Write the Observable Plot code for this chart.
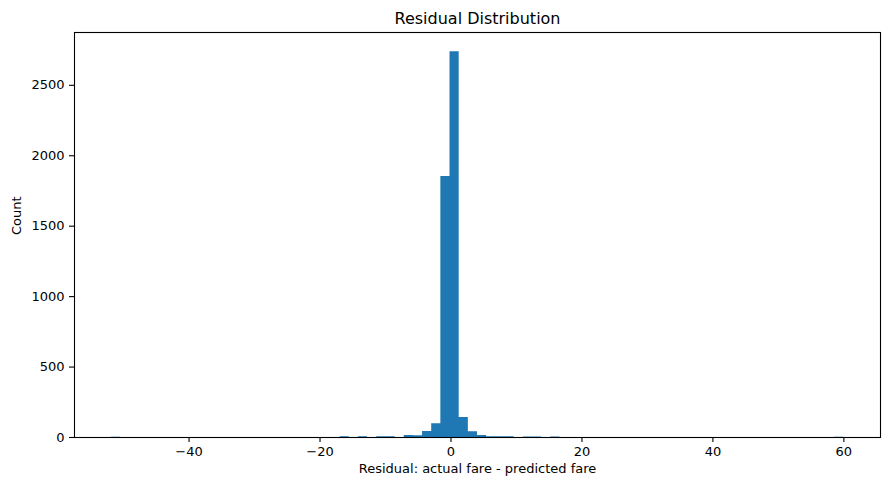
<!DOCTYPE html>
<html>
<head>
<meta charset="utf-8">
<script src="https://cdn.jsdelivr.net/npm/d3@7"></script>
<script src="https://cdn.jsdelivr.net/npm/@observablehq/plot@0.6"></script>
<style>
  body { margin: 0; background: #fff; }
  #chart svg { display: block; }
</style>
</head>
<body>
<div id="chart"></div>
<script>
const title = "Residual Distribution";
const xLabel = "Residual: actual fare - predicted fare";
const yLabel = "Count";

// Histogram: 80 equal bins spanning the residual range
const binLo = -51.9;
const binHi = 60.0;
const binCount = 80;
// bins that hold any residuals (bin index -> count); all others are empty
const binIndex = [0, 25, 27, 29, 30, 32, 33, 34, 35, 36, 37, 38, 39, 40, 41, 42, 43, 45, 46, 48, 79];
const binValue = [1, 6, 6, 6, 6, 14, 13, 42, 98, 1853, 2738, 142, 40, 14, 6, 5, 5, 4, 4, 4, 1];

const xTicks = [-40, -20, 0, 20, 40, 60];
const yTicks = [0, 500, 1000, 1500, 2000, 2500];

const binWidth = (binHi - binLo) / binCount;
const counts = new Array(binCount).fill(0);
binIndex.forEach((k, i) => { counts[k] = binValue[i]; });

// one step outline over all bin edges, so touching bars form a single seamless shape
const steps = d3.range(binCount + 1).map(k => ({
  x: binLo + k * binWidth,
  count: counts[Math.min(k, binCount - 1)]
}));

const span = binHi - binLo;
const xDomain = [binLo - 0.05 * span, binHi + 0.05 * span];
const yDomain = [0, d3.max(binValue) * 1.05];

const font = "'DejaVu Sans', sans-serif";
const minus = d => d < 0 ? "\u2212" + Math.abs(d) : String(d);

const chart = Plot.plot({
  width: 889,
  height: 490,
  marginLeft: 74,
  marginRight: 9,
  marginTop: 32,
  marginBottom: 53,
  style: { fontFamily: font, fontSize: "13px", color: "#000", background: "#fff" },
  x: { domain: xDomain },
  y: { domain: yDomain },
  marks: [
    Plot.areaY(steps, { x: "x", y: "count", curve: "step-after", fill: "#1f77b4" }),
    Plot.frame({ stroke: "#000", strokeWidth: 1.1 }),
    Plot.axisX({ ticks: xTicks, tickFormat: minus, tickSize: 5, tickPadding: 4, label: null, fontSize: 13, strokeWidth: 1.1 }),
    Plot.axisY({ ticks: yTicks, tickFormat: d => String(d), tickSize: 5, tickPadding: 5, label: null, fontSize: 13, strokeWidth: 1.1 }),
    Plot.text([title], { frameAnchor: "top", dy: -9, lineAnchor: "bottom", fontSize: 16, fill: "#000" }),
    Plot.text([xLabel], { frameAnchor: "bottom", dy: 35, fontSize: 13, fill: "#000" }),
    Plot.text([yLabel], { frameAnchor: "left", dx: -58, rotate: -90, fontSize: 13, fill: "#000" })
  ]
});

document.getElementById("chart").appendChild(chart);
</script>
</body>
</html>
